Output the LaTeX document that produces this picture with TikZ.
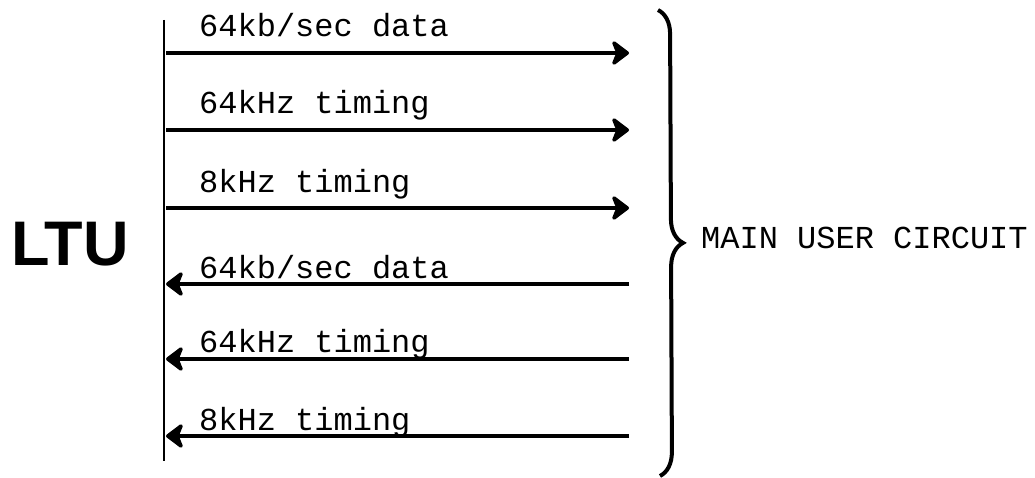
\documentclass[tikz,border=0pt]{standalone}
\usepackage{fontspec}
\setmainfont{Liberation Serif}
\newfontfamily\monof{Liberation Mono}
\newfontfamily\boldsans{Liberation Sans}
\usetikzlibrary{arrows.meta,decorations.pathreplacing}
\begin{document}
\begin{tikzpicture}[x=1pt,y=-1pt,
  lbl/.style={font=\monof\fontsize{32}{36}\selectfont, anchor=base west, inner sep=0pt},
  sig/.style={line width=4pt, -{Stealth[length=20pt 0 0,width=30pt 0 0,inset=6pt 0 0,round]}},
  bus/.style={line width=2.5pt}]
\useasboundingbox (0,0) rectangle (1035,478);
% LTU
\node[font=\boldsans\bfseries\fontsize{63}{70}\selectfont, inner sep=0pt] (ltu) at (70,244) {LTU};
% bus line
\coordinate (bt) at (164,20);
\coordinate (bb) at (164,461);
\draw[bus] (bt) -- (bb);
% arrow ends
\foreach \i/\y in {1/53,2/130,3/208,4/284,5/359,6/436}{
  \coordinate (l\i) at (166,\y);
  \coordinate (r\i) at (629,\y);
}
\draw[sig] (l1) -- (r1);
\draw[sig] (l2) -- (r2);
\draw[sig] (l3) -- (r3);
\draw[sig] (r4) -- (l4);
\draw[sig] (r5) -- (l5);
\draw[sig] (r6) -- (l6);
% labels
\node[lbl] (t1) at (199,37) {64kb/sec data};
\node[lbl] (t2) at (199,114) {64kHz timing};
\node[lbl] (t3) at (199,193) {8kHz timing};
\node[lbl] (t4) at (199,278) {64kb/sec data};
\node[lbl] (t5) at (199,352) {64kHz timing};
\node[lbl] (t6) at (199,430) {8kHz timing};
% brace
\coordinate (ba) at (658,10);
\coordinate (bz) at (660,476);
\draw[line width=4pt, decorate, decoration={brace, amplitude=24pt}] (ba) -- (bz);
\node[lbl] (muc) at (701,248) {MAIN USER CIRCUIT};
\end{tikzpicture}
\end{document}
